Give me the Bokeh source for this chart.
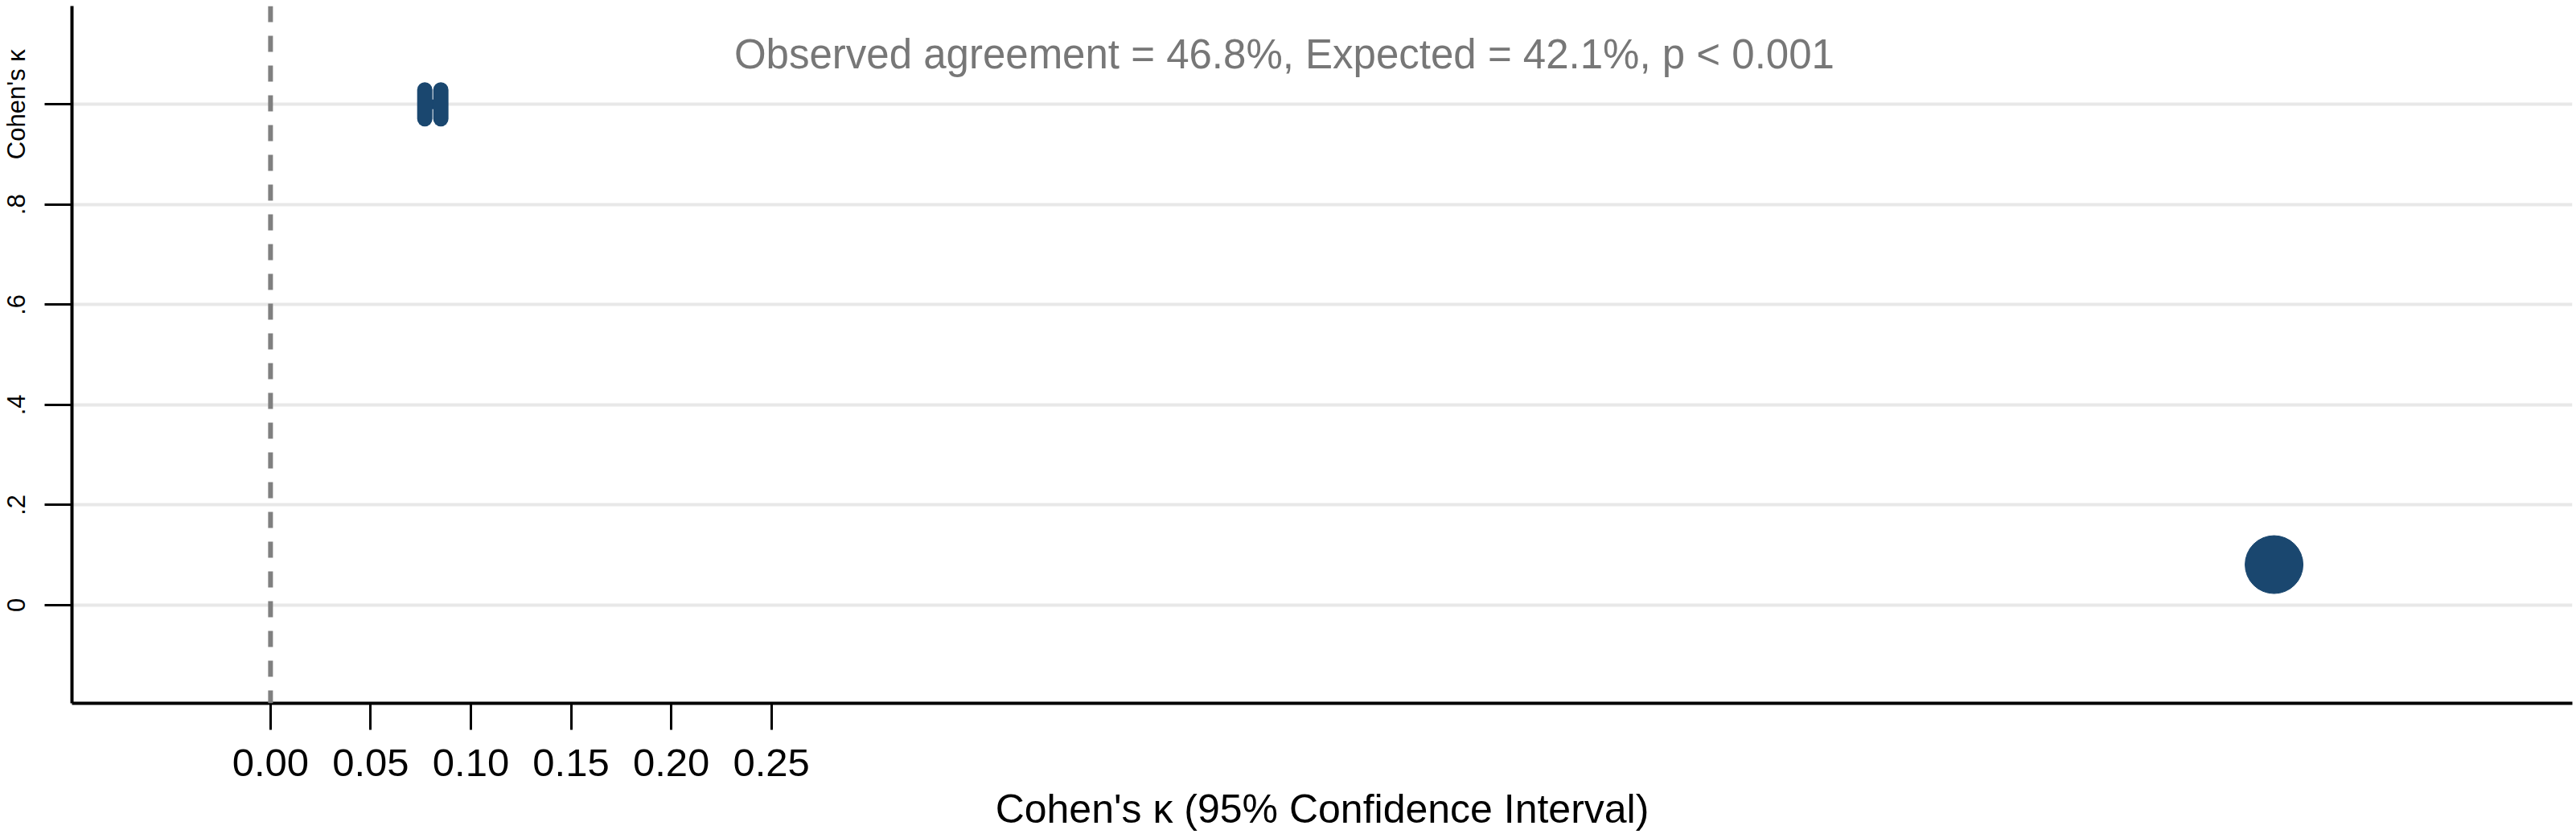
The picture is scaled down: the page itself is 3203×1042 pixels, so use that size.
import math
from bokeh.plotting import figure
from bokeh.models import Range1d, FixedTicker, Span, ColumnDataSource
from bokeh.core.properties import value
from bokeh.embed import file_html
from bokeh.resources import INLINE

# ---- data ----
row = [1]                 # row index (plotted on x for the point, y for the CI caps)
kappa = [0.081]           # Cohen's kappa estimate
ci_lo = [0.077]           # lower 95% CI
ci_hi = [0.085]           # upper 95% CI
x_ticks = [0.00, 0.05, 0.10, 0.15, 0.20, 0.25]
x_tick_labels = ["0.00", "0.05", "0.10", "0.15", "0.20", "0.25"]
y_ticks = [0.0, 0.2, 0.4, 0.6, 0.8, 1.0]
y_tick_labels = ["0", ".2", ".4", ".6", ".8", "Cohen's κ"]
note_text = ["Observed agreement = 46.8%, Expected = 42.1%, p < 0.001"]
note_x = [0.506]
note_y = [1.1]
x_title = "Cohen's κ (95% Confidence Interval)"

NAVY = "#1a476f"
FONT = "Liberation Sans"

W, H = 3200, 1040
p = figure(width=W, height=H, output_backend="svg", toolbar_location=None,
           x_range=Range1d(-0.0991, 1.1489), y_range=Range1d(-0.1959, 1.1962),
           min_border_left=88, min_border_right=2, min_border_top=7,
           min_border_bottom=166)
p.outline_line_color = None
p.background_fill_color = "white"
p.border_fill_color = "white"

# grid
p.xgrid.visible = False
p.ygrid.ticker = FixedTicker(ticks=y_ticks)
p.ygrid.grid_line_color = "#e8e8e8"
p.ygrid.grid_line_width = 4

# x axis
xa = p.xaxis[0]
xa.ticker = FixedTicker(ticks=x_ticks)
xa.major_label_overrides = {t: l for t, l in zip(x_ticks, x_tick_labels)}
xa.minor_tick_line_color = None
xa.major_tick_out = 33
xa.major_tick_in = 0
xa.major_tick_line_width = 3
xa.major_tick_line_color = "black"
xa.axis_line_width = 4
xa.axis_line_color = "black"
xa.major_label_text_font = FONT
xa.major_label_text_font_size = "49px"
xa.major_label_text_color = "black"
xa.major_label_standoff = 24
xa.axis_label = x_title
xa.axis_label_text_font = FONT
xa.axis_label_text_font_size = "50px"
xa.axis_label_text_font_style = "normal"
xa.axis_label_text_color = "black"
xa.axis_label_standoff = 10

# y axis
ya = p.yaxis[0]
ya.ticker = FixedTicker(ticks=y_ticks)
ya.major_label_overrides = {t: l for t, l in zip(y_ticks, y_tick_labels)}
ya.minor_tick_line_color = None
ya.major_tick_out = 34
ya.major_tick_in = 0
ya.major_tick_line_width = 3
ya.major_tick_line_color = "black"
ya.axis_line_width = 4
ya.axis_line_color = "black"
ya.major_label_text_font = FONT
ya.major_label_text_font_size = "31px"
ya.major_label_text_color = "black"
ya.major_label_orientation = "vertical"
ya.major_label_standoff = 17

# reference line at 0
p.add_layout(Span(location=0, dimension="height", line_color="#808080",
                  line_width=6, line_dash="20 17"))

# CI caps (plotted at y = row)
ci_src = ColumnDataSource(dict(lo=ci_lo, hi=ci_hi, row=row))
p.segment(x0="lo", y0="row", x1="hi", y1="row", source=ci_src,
          line_color=NAVY, line_width=12)
p.scatter(x="lo", y="row", source=ci_src, marker="dash", angle=math.pi / 2,
          size=36, line_width=19, line_color=NAVY, line_cap="round")
p.scatter(x="hi", y="row", source=ci_src, marker="dash", angle=math.pi / 2,
          size=36, line_width=19, line_color=NAVY, line_cap="round")

# point estimate (plotted at x = row)
pt_src = ColumnDataSource(dict(row=row, kappa=kappa))
p.scatter(x="row", y="kappa", source=pt_src, marker="circle", size=72,
          fill_color=NAVY, line_color=NAVY)

# annotation text
note_src = ColumnDataSource(dict(x=note_x, y=note_y, t=note_text))
p.text(x="x", y="y", text="t", source=note_src, text_font=value(FONT),
       text_font_size="51px", text_color="#777777", text_align="center",
       text_baseline="middle")

open("out.html", "w").write(file_html(p, INLINE))
